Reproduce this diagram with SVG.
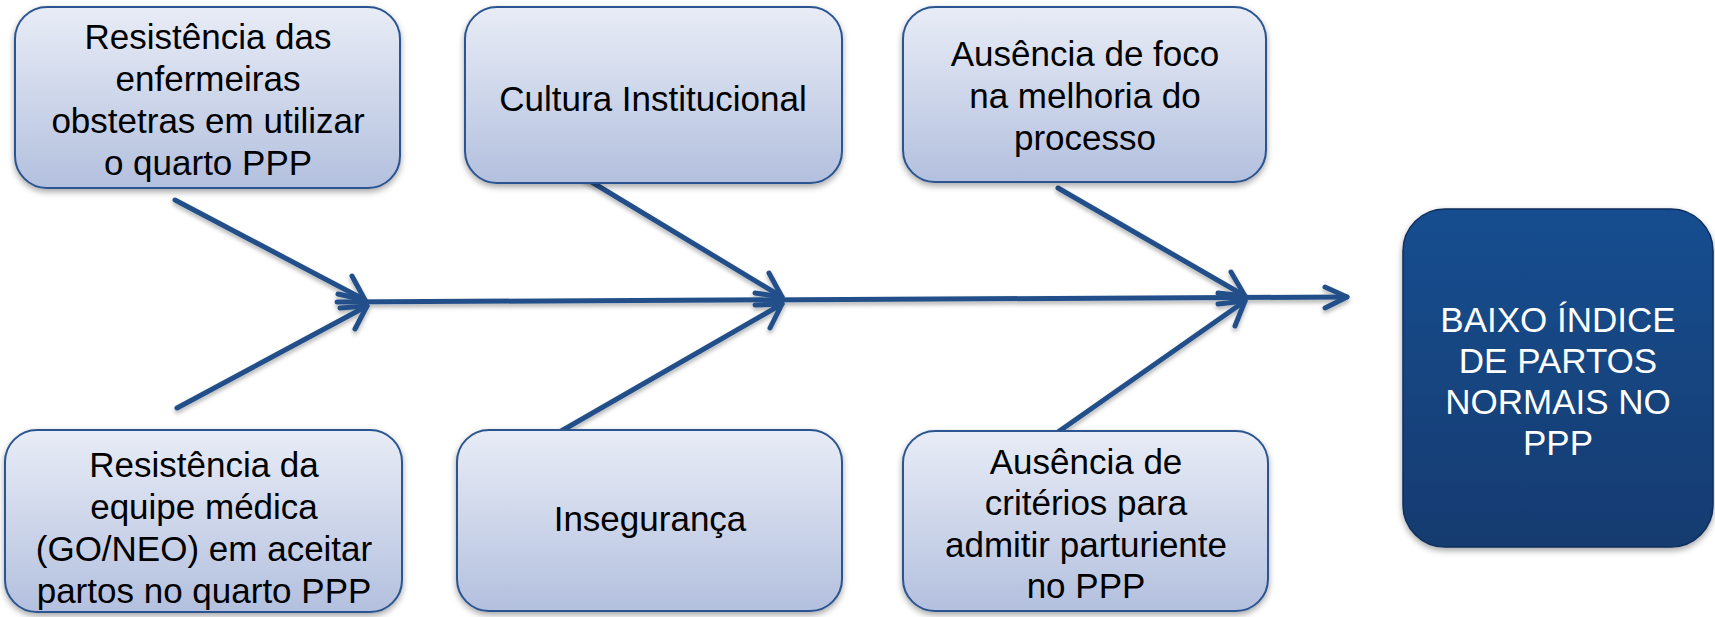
<svg xmlns="http://www.w3.org/2000/svg" width="1715" height="617" viewBox="0 0 1715 617">
<style>
.box{fill:url(#lg);stroke:#2b5490;stroke-width:2;filter:url(#sh)}
.t{font-family:"Liberation Sans",Arial,sans-serif;font-size:35px;fill:#000;text-anchor:middle}
.tw{font-family:"Liberation Sans",Arial,sans-serif;font-size:35px;fill:#fff;text-anchor:middle}
.ln{stroke:#22508a;stroke-width:5;fill:none;stroke-linecap:round;stroke-linejoin:round}
</style>
<defs>
<linearGradient id="lg" x1="0" y1="0" x2="0" y2="1">
<stop offset="0" stop-color="#e8ecf6"/>
<stop offset="1" stop-color="#b3c0de"/>
</linearGradient>
<linearGradient id="dg" x1="0" y1="0" x2="0" y2="1">
<stop offset="0" stop-color="#174e90"/>
<stop offset="1" stop-color="#133b70"/>
</linearGradient>
<filter id="sh" x="-10%" y="-10%" width="120%" height="125%">
<feDropShadow dx="0" dy="3" stdDeviation="3" flood-color="#000" flood-opacity="0.35"/>
</filter>
<filter id="lsh" x="-10%" y="-50%" width="120%" height="200%">
<feDropShadow dx="0" dy="3" stdDeviation="2" flood-color="#000" flood-opacity="0.3"/>
</filter>
</defs>

<g id="connectors" filter="url(#lsh)">
<path class="ln" d="M337 302 L1347 297"/>
<path class="ln" d="M1325 287 L1347 297 L1325 308"/>
<path class="ln" d="M175 200 L365 300"/>
<path class="ln" d="M338 294 L365 300 L352 276"/>
<path class="ln" d="M177 408 L367 306"/>
<path class="ln" d="M355 329 L367 306 L340 308"/>
<path class="ln" d="M585 178 L782 297"/>
<path class="ln" d="M755 293 L782 297 L769 273"/>
<path class="ln" d="M556 434 L782 304"/>
<path class="ln" d="M770 328 L782 304 L755 305"/>
<path class="ln" d="M1058 188 L1245 296"/>
<path class="ln" d="M1218 293 L1245 296 L1231 272"/>
<path class="ln" d="M1058 432 L1245 301"/>
<path class="ln" d="M1235 326 L1245 301 L1218 304"/>
</g>

<g id="n1">
<rect class="box" x="15" y="7" width="385" height="181" rx="32"/>
<text class="t" x="208" y="49">Resistência das</text>
<text class="t" x="208" y="91">enfermeiras</text>
<text class="t" x="208" y="133">obstetras em utilizar</text>
<text class="t" x="208" y="175">o quarto PPP</text>
</g>
<g id="n2">
<rect class="box" x="465" y="7" width="377" height="176" rx="32"/>
<text class="t" x="653" y="111">Cultura Institucional</text>
</g>
<g id="n3">
<rect class="box" x="903" y="7" width="363" height="175" rx="32"/>
<text class="t" x="1085" y="66">Ausência de foco</text>
<text class="t" x="1085" y="108">na melhoria do</text>
<text class="t" x="1085" y="150">processo</text>
</g>
<g id="n4">
<rect class="box" x="5" y="430" width="397" height="182" rx="32"/>
<text class="t" x="204" y="477">Resistência da</text>
<text class="t" x="204" y="519">equipe médica</text>
<text class="t" x="204" y="561">(GO/NEO) em aceitar</text>
<text class="t" x="204" y="603">partos no quarto PPP</text>
</g>
<g id="n5">
<rect class="box" x="457" y="430" width="385" height="181" rx="32"/>
<text class="t" x="650" y="531">Insegurança</text>
</g>
<g id="n6">
<rect class="box" x="903" y="431" width="365" height="180" rx="32"/>
<text class="t" x="1086" y="474">Ausência de</text>
<text class="t" x="1086" y="515">critérios para</text>
<text class="t" x="1086" y="557">admitir parturiente</text>
<text class="t" x="1086" y="598">no PPP</text>
</g>
<g id="n7">
<rect x="1403" y="209" width="310" height="338" rx="42" fill="url(#dg)" stroke="#0f2f5c" stroke-width="1.5" filter="url(#sh)"/>
<text class="tw" x="1558" y="332">BAIXO ÍNDICE</text>
<text class="tw" x="1558" y="373">DE PARTOS</text>
<text class="tw" x="1558" y="414">NORMAIS NO</text>
<text class="tw" x="1558" y="455">PPP</text>
</g>
</svg>
